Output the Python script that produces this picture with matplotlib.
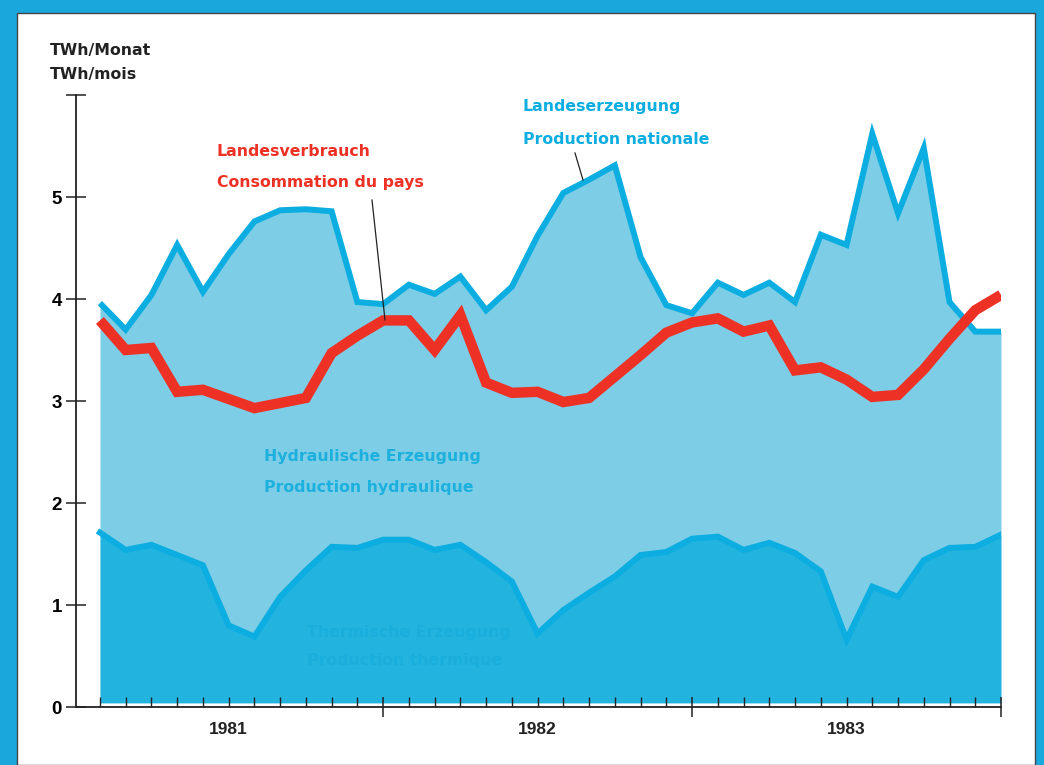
import numpy as np
import matplotlib
matplotlib.use("Agg")
import matplotlib.pyplot as plt
from matplotlib.patches import Rectangle
from matplotlib.lines import Line2D

# monthly values 1981-1983, TWh per month
months = np.arange(36)
total = [3.96, 3.70, 4.04, 4.53, 4.07, 4.44, 4.76, 4.87, 4.88, 4.86, 3.97, 3.95,
         4.14, 4.05, 4.22, 3.89, 4.12, 4.62, 5.04, 5.17, 5.31, 4.41, 3.94, 3.86,
         4.16, 4.04, 4.16, 3.97, 4.63, 4.53, 5.62, 4.84, 5.48, 3.97, 3.68, 3.68]
thermal = [1.71, 1.54, 1.59, 1.49, 1.39, 0.80, 0.69, 1.08, 1.34, 1.57, 1.56, 1.64,
           1.64, 1.54, 1.59, 1.42, 1.23, 0.72, 0.95, 1.12, 1.28, 1.49, 1.52, 1.65,
           1.67, 1.54, 1.61, 1.51, 1.33, 0.66, 1.18, 1.08, 1.44, 1.56, 1.57, 1.69]
consumption = [3.79, 3.50, 3.52, 3.09, 3.11, 3.02, 2.93, 2.98, 3.03, 3.47, 3.64, 3.79,
               3.79, 3.50, 3.84, 3.18, 3.08, 3.09, 2.99, 3.03, 3.24, 3.45, 3.67, 3.77,
               3.81, 3.68, 3.74, 3.30, 3.33, 3.21, 3.04, 3.06, 3.31, 3.61, 3.89, 4.04]
years = ['1981', '1982', '1983']
year_pos = [5, 17, 29]
yticklabels = ['0', '1', '2', '3', '4', '5', '']

W, H = 1044., 765.
frame_col = '#1aa7dc'
line_col = '#0cade0'
thermal_col = '#22b3df'
hydro_col = '#7dcde6'
red = '#ee3125'

fig = plt.figure(figsize=(10.44, 7.65), dpi=100, facecolor=frame_col)
fig.patches.append(Rectangle((17/W, 0), (1035-17)/W, 1-13/H, transform=fig.transFigure,
                             facecolor='white', edgecolor='#444444', lw=1.0, zorder=-5))

ax = fig.add_axes([76/W, 1-707/H, (1001-76)/W, (707-95)/H])
ax.set_zorder(2)
ax.patch.set_alpha(0)
ax.set_xlim(-0.93, 35)
ax.set_ylim(0, 6)

# areas
ax.fill_between(months, 0.04, thermal, color=thermal_col, lw=0, zorder=1)
ax.fill_between(months, thermal, total, color=hydro_col, lw=0, zorder=1)
ax.plot(months, thermal, color=line_col, lw=4.3, solid_joinstyle='miter', zorder=2)
ax.plot(months, total, color=line_col, lw=4.3, solid_joinstyle='miter',
        solid_capstyle='butt', zorder=3)
ax.plot(months, consumption, color=red, lw=7.5, solid_joinstyle='miter',
        solid_capstyle='butt', zorder=4)

# axes styling
for s in ['top', 'right']:
    ax.spines[s].set_visible(False)
for s in ['left', 'bottom']:
    ax.spines[s].set_color('#222222')
    ax.spines[s].set_linewidth(1.3)
    ax.spines[s].set_zorder(5)

ax.set_yticks(range(7))
ax.set_yticklabels(yticklabels, fontfamily='Liberation Sans', fontweight='bold', fontsize=13.5)
ax.tick_params(axis='y', direction='inout', length=14, width=1.1, pad=3, color='#222222')

ax.set_xticks([11, 23, 35])
ax.set_xticklabels([])
ax.set_xticks([m for m in months if m not in (11, 23, 35)], minor=True)
ax.tick_params(axis='x', which='major', direction='inout', length=15, width=1.1, color='#222222')
ax.tick_params(axis='x', which='minor', direction='in', length=7, width=1.0, color='#222222')

for yr, xp in zip(years, year_pos):
    ax.text(xp, -0.225, yr, ha='center', va='center', fontsize=12.5,
            fontfamily='Liberation Sans', fontweight='bold', color='#222222', clip_on=False)

# texts (figure pixel positions)
def ftext(px, py, s, col, z=10):
    fig.text(px/W, 1-py/H, s, color=col, ha='left', va='center',
             fontsize=11.3, fontweight='bold', zorder=z)

ftext(50, 51, 'TWh/Monat', '#222222')
ftext(50, 74, 'TWh/mois', '#222222')
ftext(217, 152, 'Landesverbrauch', red)
ftext(217, 183, 'Consommation du pays', red)
ftext(523, 107, 'Landeserzeugung', line_col)
ftext(523, 140, 'Production nationale', line_col)
ftext(264, 457, 'Hydraulische Erzeugung', '#1cb0de')
ftext(264, 488, 'Production hydraulique', '#1cb0de')
ftext(307, 632, 'Thermische Erzeugung', '#1aaedd')
ftext(307, 661, 'Production thermique', '#1aaedd')

# pointer lines
fig.add_artist(Line2D([372/W, 385/W], [1-200/H, 1-320/H], color='#222222', lw=0.9, zorder=10))
fig.add_artist(Line2D([575/W, 583/W], [1-153/H, 1-180/H], color='#222222', lw=0.9, zorder=10))

fig.savefig('out.png', dpi=100, facecolor=frame_col)
